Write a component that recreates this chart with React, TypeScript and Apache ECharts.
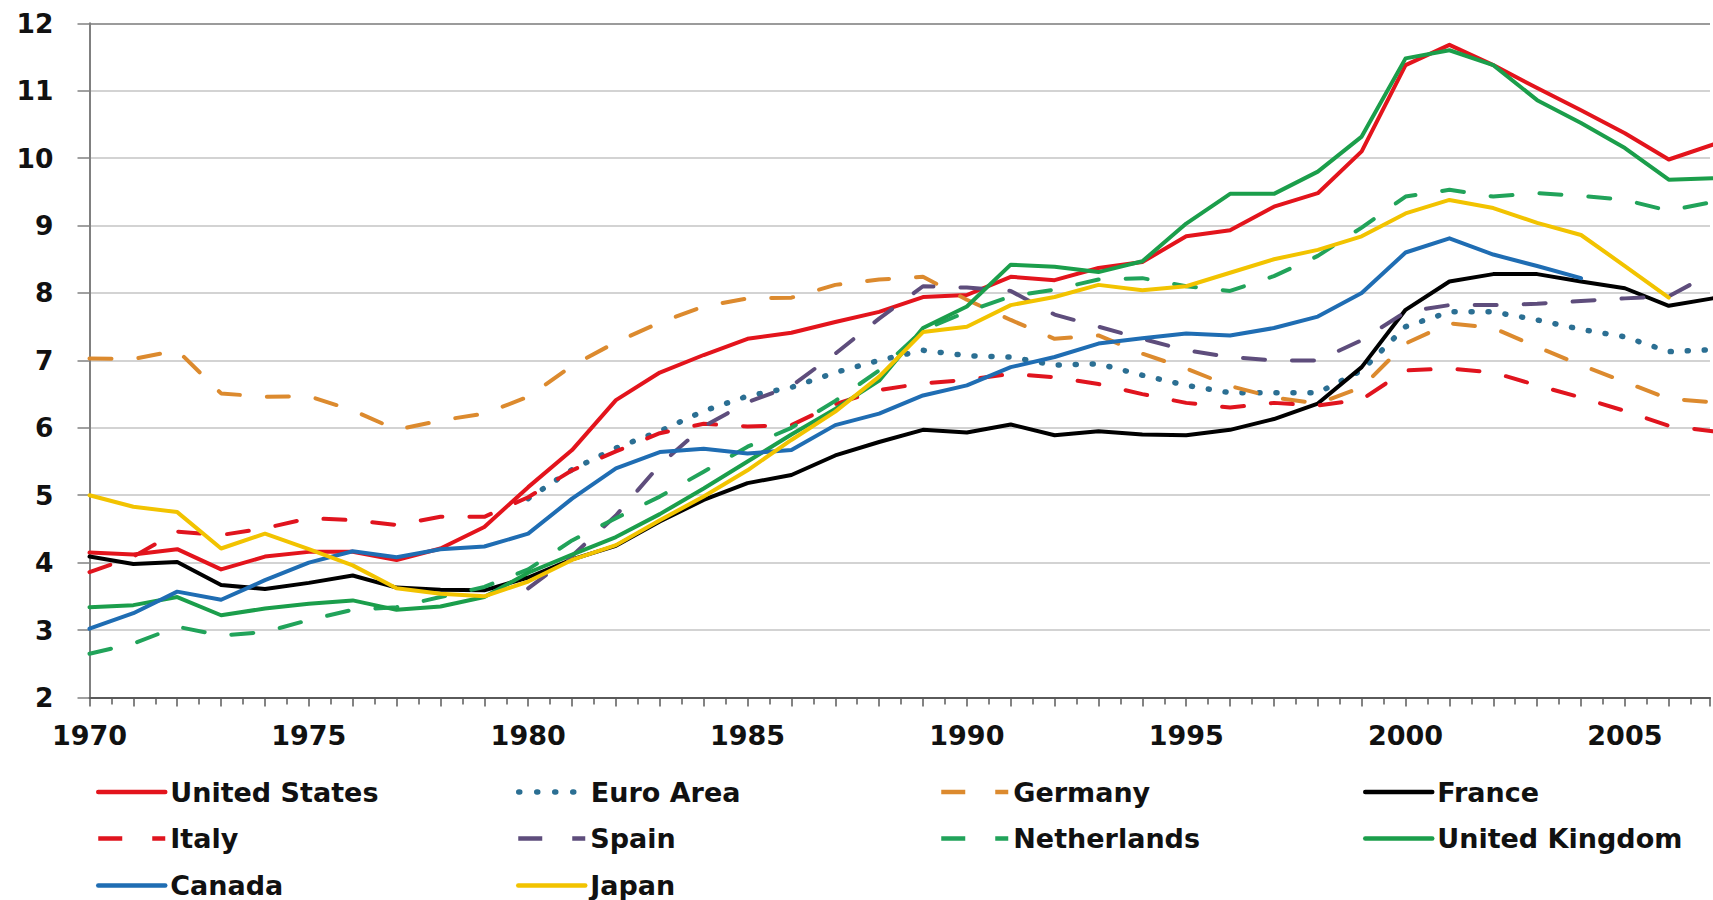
import React, { useEffect, useRef } from "react";
import * as echarts from "echarts";

// Years 1970 … 2007
const years: number[] = [
  1970, 1971, 1972, 1973, 1974, 1975, 1976, 1977, 1978, 1979,
  1980, 1981, 1982, 1983, 1984, 1985, 1986, 1987, 1988, 1989,
  1990, 1991, 1992, 1993, 1994, 1995, 1996, 1997, 1998, 1999,
  2000, 2001, 2002, 2003, 2004, 2005, 2006, 2007,
];

const yTicks: number[] = [2, 3, 4, 5, 6, 7, 8, 9, 10, 11, 12];

const unitedStates: (number | null)[] = [
  4.15, 4.12, 4.2, 3.9, 4.09, 4.16, 4.16, 4.04, 4.21, 4.53,
  5.12, 5.67, 6.41, 6.82, 7.08, 7.32, 7.41, 7.57, 7.72, 7.94,
  7.97, 8.24, 8.19, 8.37, 8.46, 8.84, 8.93, 9.28, 9.48, 10.1,
  11.38, 11.68, 11.38, 11.04, 10.71, 10.37, 9.98, 10.2,
];
const euroArea: (number | null)[] = [
  null, null, null, null, null, null, null, null, null, null,
  4.95, 5.38, 5.7, 5.95, 6.25, 6.47, 6.6, 6.82, 7.0, 7.15,
  7.07, 7.05, 6.93, 6.95, 6.78, 6.63, 6.52, 6.52, 6.52, 6.85,
  7.5, 7.72, 7.72, 7.6, 7.46, 7.35, 7.13, 7.16,
];
const germany: (number | null)[] = [
  7.03, 7.02, 7.15, 6.51, 6.46, 6.47, 6.26, 5.97, 6.11, 6.21,
  6.46, 6.92, 7.27, 7.56, 7.8, 7.92, 7.93, 8.12, 8.2, 8.24,
  7.9, 7.6, 7.32, 7.37, 7.1, 6.88, 6.62, 6.45, 6.36, 6.6,
  7.25, 7.55, 7.48, 7.2, 6.93, 6.68, 6.43, 6.38,
];
const france: (number | null)[] = [
  4.09, 3.98, 4.01, 3.67, 3.61, 3.7, 3.81, 3.63, 3.6, 3.59,
  3.78, 4.05, 4.25, 4.61, 4.93, 5.18, 5.3, 5.59, 5.79, 5.97,
  5.93, 6.05, 5.89, 5.95, 5.9, 5.89, 5.97, 6.13, 6.36, 6.9,
  7.75, 8.17, 8.28, 8.28, 8.17, 8.07, 7.81, 7.92,
];
const italy: (number | null)[] = [
  3.86, 4.09, 4.46, 4.41, 4.51, 4.66, 4.63, 4.56, 4.68, 4.68,
  4.97, 5.37, 5.65, 5.92, 6.06, 6.02, 6.04, 6.35, 6.56, 6.66,
  6.71, 6.8, 6.75, 6.65, 6.5, 6.37, 6.3, 6.37, 6.33, 6.42,
  6.85, 6.88, 6.82, 6.63, 6.45, 6.25, 6.03, 5.95,
];
const spain: (number | null)[] = [
  null, null, null, null, null, null, null, null, null, null,
  3.62, 4.1, 4.7, 5.45, 6.02, 6.38, 6.62, 7.1, 7.62, 8.1,
  8.08, 8.03, 7.68, 7.5, 7.32, 7.15, 7.05, 7.0, 7.0, 7.3,
  7.72, 7.82, 7.82, 7.84, 7.88, 7.92, 7.95, 8.3,
];
const netherlands: (number | null)[] = [
  2.65, 2.8, 3.05, 2.92, 2.97, 3.15, 3.3, 3.34, 3.49, 3.64,
  3.9, 4.33, 4.66, 4.98, 5.35, 5.72, 6.0, 6.4, 6.85, 7.45,
  7.72, 7.95, 8.05, 8.2, 8.22, 8.1, 8.03, 8.25, 8.55, 8.97,
  9.43, 9.53, 9.43, 9.48, 9.44, 9.38, 9.22, 9.35,
];
const unitedKingdom: (number | null)[] = [
  3.34, 3.37, 3.49, 3.22, 3.32, 3.39, 3.44, 3.3, 3.35, 3.49,
  3.85, 4.12, 4.38, 4.72, 5.1, 5.5, 5.9, 6.28, 6.7, 7.48,
  7.8, 8.42, 8.39, 8.31, 8.47, 9.03, 9.47, 9.47, 9.8, 10.32,
  11.48, 11.6, 11.38, 10.86, 10.52, 10.15, 9.68, 9.7,
];
const canada: (number | null)[] = [
  3.02, 3.25, 3.57, 3.45, 3.74, 4.0, 4.17, 4.08, 4.2, 4.24,
  4.43, 4.95, 5.4, 5.64, 5.69, 5.62, 5.67, 6.04, 6.21, 6.48,
  6.63, 6.9, 7.05, 7.25, 7.33, 7.4, 7.37, 7.48, 7.65, 8.0,
  8.6, 8.81, 8.57, 8.4, 8.22, null, null, null,
];
const japan: (number | null)[] = [
  5.0, 4.83, 4.75, 4.21, 4.43, 4.2, 3.96, 3.62, 3.54, 3.5,
  3.72, 4.04, 4.26, 4.63, 4.98, 5.37, 5.82, 6.24, 6.76, 7.42,
  7.5, 7.82, 7.94, 8.12, 8.04, 8.1, 8.3, 8.5, 8.64, 8.84,
  9.18, 9.38, 9.26, 9.04, 8.86, 8.4, 7.93, null,
];

const FONT = "'DejaVu Sans', Verdana, sans-serif";
const TEXT = "#111111";

type Def = {
  name: string;
  values: (number | null)[];
  color: string;
  kind: "solid" | "dash" | "dot";
};

const defs: Def[] = [
  { name: "United States", values: unitedStates, color: "#e3141c", kind: "solid" },
  { name: "Euro Area", values: euroArea, color: "#2b6f93", kind: "dot" },
  { name: "Germany", values: germany, color: "#dc8a2e", kind: "dash" },
  { name: "France", values: france, color: "#000000", kind: "solid" },
  { name: "Italy", values: italy, color: "#e0141e", kind: "dash" },
  { name: "Spain", values: spain, color: "#5e4d7c", kind: "dash" },
  { name: "Netherlands", values: netherlands, color: "#21a35a", kind: "dash" },
  { name: "United Kingdom", values: unitedKingdom, color: "#1b9e4b", kind: "solid" },
  { name: "Canada", values: canada, color: "#1f6db3", kind: "solid" },
  { name: "Japan", values: japan, color: "#f2c300", kind: "solid" },
];

function toPairs(vals: (number | null)[]) {
  const out: [number, number][] = [];
  years.forEach((y, i) => {
    const v = vals[i];
    if (v !== null && v !== undefined) out.push([y, v]);
  });
  return out;
}

function lineStyleFor(d: Def) {
  if (d.kind === "dot") {
    return { color: d.color, width: 5.5, type: [1, 16], cap: "round" as const };
  }
  if (d.kind === "dash") {
    return { color: d.color, width: 4, type: [22, 27], cap: "round" as const };
  }
  return { color: d.color, width: 4, type: "solid" as const, cap: "round" as const, join: "round" as const };
}

const colLeft = [96, 516, 939, 1363];
const rowTop = [778.5, 825, 872];

export default function App() {
  const ref = useRef<HTMLDivElement>(null);

  useEffect(() => {
    if (!ref.current) return;
    const chart = echarts.init(ref.current, null, { renderer: "svg" });

    const gridColors = yTicks.map((t, i) => (i === yTicks.length - 1 ? "#7a7a7a" : "#c4c4c4"));

    const option: any = {
      animation: false,
      backgroundColor: "#ffffff",
      grid: { left: 89.5, right: 0, top: 23.3, bottom: 202.5, containLabel: false },
      xAxis: {
        type: "value",
        min: 1970,
        max: 2006.94,
        interval: 1,
        axisLine: { show: true, lineStyle: { color: "#5a5a5a", width: 2 } },
        axisTick: { show: true, length: 9, lineStyle: { color: "#5a5a5a", width: 1.5 } },
        minorTick: { show: true, splitNumber: 2, length: 7, lineStyle: { color: "#5a5a5a", width: 1.5 } },
        splitLine: { show: false },
        axisLabel: {
          margin: 24,
          fontSize: 27,
          fontWeight: "bold",
          fontFamily: FONT,
          color: TEXT,
          formatter: (v: number) =>
            Math.abs(v - Math.round(v)) < 1e-6 && Math.round(v) % 5 === 0 ? String(Math.round(v)) : "",
        },
      },
      yAxis: {
        type: "value",
        min: 2,
        max: 12,
        interval: 1,
        axisLine: { show: true, lineStyle: { color: "#808080", width: 2 } },
        axisTick: { show: true, length: 12, lineStyle: { color: "#808080", width: 1.5 } },
        splitLine: { show: true, lineStyle: { color: gridColors, width: 1.5 } },
        axisLabel: {
          margin: 36,
          fontSize: 26.5,
          fontWeight: "bold",
          fontFamily: FONT,
          color: TEXT,
        },
      },
      legend: defs.map((d, i) => ({
        data: [d.name],
        left: colLeft[i % 4],
        top: rowTop[Math.floor(i / 4)],
        orient: "horizontal",
        padding: 0,
        itemWidth: 67,
        itemHeight: 14,
        selectedMode: false,
        itemStyle: { opacity: 0, borderWidth: 0 },
        textStyle: {
          fontSize: 27,
          fontWeight: "bold",
          fontFamily: FONT,
          color: TEXT,
          lineHeight: 26,
        },
        lineStyle:
          d.kind === "dash"
            ? { type: [24, 30], cap: "butt", width: 4.5 }
            : d.kind === "dot"
            ? { type: [1, 17], cap: "round", width: 5.5 }
            : { width: 4.5 },
      })),
      series: defs.map((d) => ({
        name: d.name,
        type: "line",
        data: toPairs(d.values),
        symbol: "none",
        showSymbol: false,
        clip: true,
        color: d.color,
        lineStyle: lineStyleFor(d),
        emphasis: { disabled: true },
      })),
    };

    chart.setOption(option);
    return () => {
      chart.dispose();
    };
  }, []);

  return (
    <div
      ref={ref}
      style={{ position: "fixed", left: 0, top: 0, width: 1713, height: 900, background: "#fff" }}
    />
  );
}
